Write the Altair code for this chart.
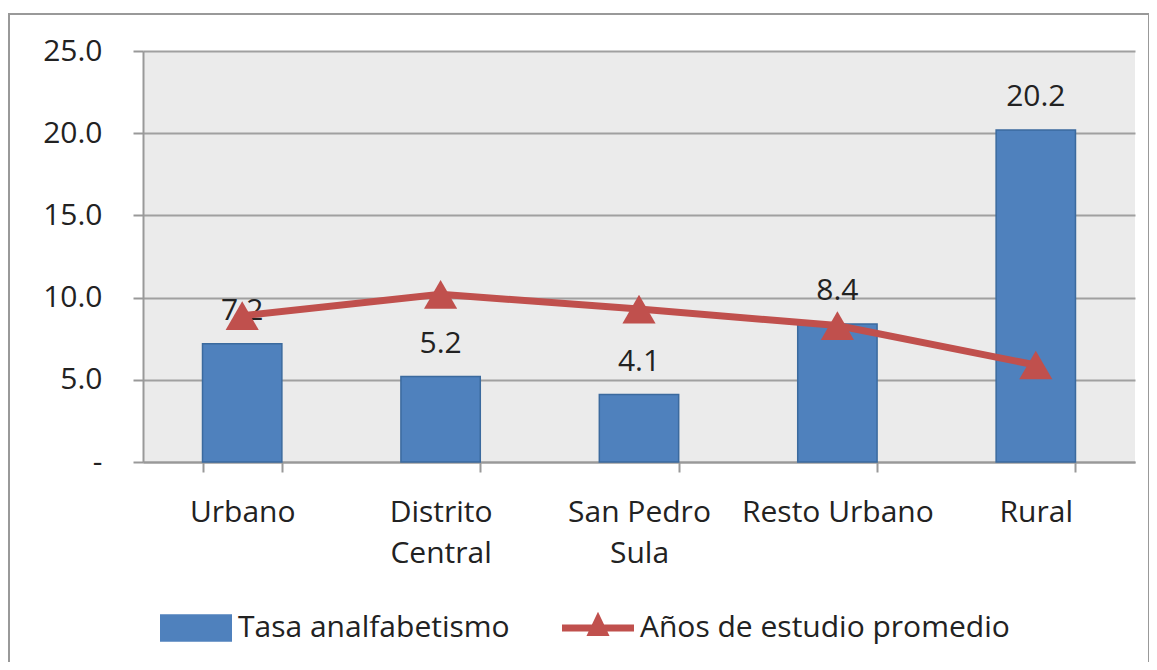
import altair as alt
import pandas as pd

categorias = ["Urbano", "Distrito|Central", "San Pedro|Sula", "Resto Urbano", "Rural"]
tasa_analfabetismo = [7.2, 5.2, 4.1, 8.4, 20.2]
anios_estudio = [8.9, 10.2, 9.3, 8.3, 5.9]
series = ["Tasa analfabetismo", "Años de estudio promedio"]
y_ticks = [0, 5, 10, 15, 20, 25]

FONT = "Open Sans"
FS = 30
df = pd.DataFrame({"cat": categorias, "tasa": tasa_analfabetismo, "anios": anios_estudio})
leg = pd.DataFrame({"serie": series, "cat": [categorias[0]] * 2, "v": [0, 0]})

xenc = alt.X("cat:N", sort=categorias, scale=alt.Scale(paddingInner=0.6, paddingOuter=0.3),
             axis=alt.Axis(title=None, labelExpr="split(datum.label, '|')", labelAngle=0,
                           labelFontSize=FS, labelFont=FONT, labelColor="#222222", labelLimit=0,
                           labelPadding=25, labelLineHeight=41, tickBand="extent", tickSize=10,
                           domainColor="#999999", tickColor="#999999", domainWidth=2, tickWidth=2,
                           grid=False))
yscale = alt.Scale(domain=[0, 25], nice=False)
yaxis = alt.Axis(title=None, values=y_ticks, labelExpr="datum.value == 0 ? '-' : format(datum.value, '.1f')",
                 labelFontSize=FS, labelFont=FONT, labelColor="#222222", labelPadding=31,
                 tickSize=10, tickColor="#999999", domainColor="#999999", domainWidth=2, tickWidth=2,
                 gridColor="#a0a0a0", gridWidth=2)

base = alt.Chart(df)

bars = base.mark_bar(color="#4F81BD", stroke="#3B6A9E", strokeWidth=1.5).encode(
    x=xenc, y=alt.Y("tasa:Q", scale=yscale, axis=yaxis))

labels = base.mark_text(fontSize=FS, font=FONT, color="#222222", baseline="middle", dy=-33).encode(
    x=alt.X("cat:N", sort=categorias), y=alt.Y("tasa:Q", scale=yscale),
    text=alt.Text("tasa:Q", format=".1f"))

line = base.mark_line(color="#C0504D", strokeWidth=7).encode(
    x=alt.X("cat:N", sort=categorias), y=alt.Y("anios:Q", scale=yscale))

pts = base.mark_point(shape="triangle-up", filled=True, color="#C0504D", opacity=1, size=1100).encode(
    x=alt.X("cat:N", sort=categorias), y=alt.Y("anios:Q", scale=yscale))

legend_layer = alt.Chart(leg).mark_point(filled=True, opacity=0).encode(
    x=alt.X("cat:N", sort=categorias), y=alt.Y("v:Q", scale=yscale),
    color=alt.Color("serie:N", scale=alt.Scale(domain=series, range=["#4F81BD", "#C0504D"]),
                    legend=alt.Legend(title=None, orient="none", legendX=17, legendY=541,
                                      direction="horizontal", labelFontSize=FS, labelFont=FONT,
                                      labelColor="#222222", symbolOpacity=1, symbolSize=5184,
                                      symbolStrokeWidth=0, columnPadding=52, labelOffset=6,
                                      labelLimit=0)),
    shape=alt.Shape("serie:N", scale=alt.Scale(domain=series, range=[
        "M-1,-0.38L1,-0.38L1,0.38L-1,0.38Z",
        "M-1,-0.1L1,-0.1L1,0.1L-1,0.1Z M-0.32,0.22L0,-0.45L0.32,0.22Z"]), legend=None))

frame = alt.Chart(df).mark_rect(fill=None, stroke="#999999", strokeWidth=2, clip=False).encode(
    x=alt.value(-134), x2=alt.value(1006), y=alt.value(-37), y2=alt.value(614))

chart = alt.layer(bars, labels, line, pts, legend_layer, frame).properties(
    width=992, height=411,
    autosize=alt.AutoSizeParams(type="none"),
    padding={"left": 135, "top": 43, "right": 14, "bottom": 200},
    background="white",
).configure_view(fill="#EBEBEB", stroke=None)

chart.save("out.html", embed_options={"renderer": "svg", "actions": False})
